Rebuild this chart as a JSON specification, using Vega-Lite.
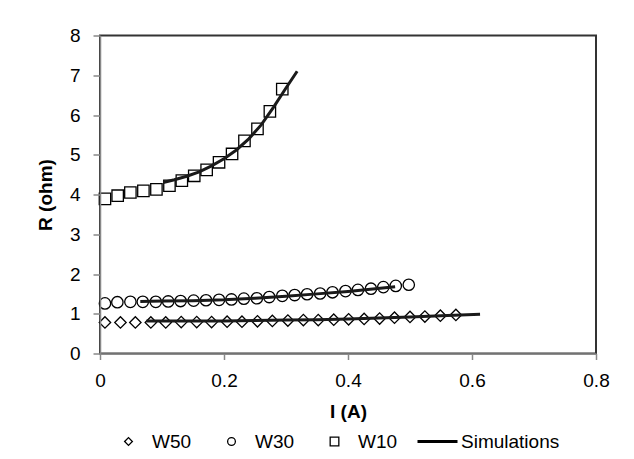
{
  "$schema": "https://vega.github.io/schema/vega-lite/v6.json",
  "width": 496,
  "height": 318,
  "autosize": {"type": "none"},
  "padding": {"left": 100, "top": 35.5, "right": 38, "bottom": 105.5},
  "background": "white",
  "config": {
    "font": "Liberation Sans",
    "view": {"stroke": "#333333", "strokeWidth": 2},
    "legend": {
      "orient": "none", "legendX": 7, "legendY": 394,
      "direction": "horizontal", "columns": 4, "clipHeight": 24,
      "symbolStrokeColor": "black", "symbolFillColor": "transparent",
      "symbolOpacity": 1,
      "labelFontSize": 19, "labelColor": "black", "labelOffset": 2,
      "columnPadding": 18
    }
  },
  "datasets": {
    "pts": [
      {"series": "W10", "I": 0.008, "R": 3.89},
      {"series": "W10", "I": 0.0285, "R": 3.97},
      {"series": "W10", "I": 0.049, "R": 4.05},
      {"series": "W10", "I": 0.070, "R": 4.09},
      {"series": "W10", "I": 0.091, "R": 4.13},
      {"series": "W10", "I": 0.112, "R": 4.22},
      {"series": "W10", "I": 0.132, "R": 4.35},
      {"series": "W10", "I": 0.152, "R": 4.47},
      {"series": "W10", "I": 0.172, "R": 4.62},
      {"series": "W10", "I": 0.192, "R": 4.81},
      {"series": "W10", "I": 0.213, "R": 5.02},
      {"series": "W10", "I": 0.233, "R": 5.35},
      {"series": "W10", "I": 0.254, "R": 5.65},
      {"series": "W10", "I": 0.274, "R": 6.09},
      {"series": "W10", "I": 0.294, "R": 6.65},
      {"series": "W30", "I": 0.008, "R": 1.26},
      {"series": "W30", "I": 0.028, "R": 1.29},
      {"series": "W30", "I": 0.049, "R": 1.30},
      {"series": "W30", "I": 0.069, "R": 1.30},
      {"series": "W30", "I": 0.090, "R": 1.30},
      {"series": "W30", "I": 0.110, "R": 1.31},
      {"series": "W30", "I": 0.130, "R": 1.32},
      {"series": "W30", "I": 0.151, "R": 1.33},
      {"series": "W30", "I": 0.171, "R": 1.34},
      {"series": "W30", "I": 0.192, "R": 1.35},
      {"series": "W30", "I": 0.212, "R": 1.36},
      {"series": "W30", "I": 0.232, "R": 1.38},
      {"series": "W30", "I": 0.253, "R": 1.39},
      {"series": "W30", "I": 0.273, "R": 1.42},
      {"series": "W30", "I": 0.294, "R": 1.45},
      {"series": "W30", "I": 0.314, "R": 1.47},
      {"series": "W30", "I": 0.334, "R": 1.49},
      {"series": "W30", "I": 0.355, "R": 1.51},
      {"series": "W30", "I": 0.375, "R": 1.54},
      {"series": "W30", "I": 0.396, "R": 1.57},
      {"series": "W30", "I": 0.416, "R": 1.60},
      {"series": "W30", "I": 0.437, "R": 1.63},
      {"series": "W30", "I": 0.457, "R": 1.67},
      {"series": "W30", "I": 0.477, "R": 1.70},
      {"series": "W30", "I": 0.498, "R": 1.73},
      {"series": "W50", "I": 0.008, "R": 0.78},
      {"series": "W50", "I": 0.033, "R": 0.78},
      {"series": "W50", "I": 0.057, "R": 0.78},
      {"series": "W50", "I": 0.082, "R": 0.78},
      {"series": "W50", "I": 0.106, "R": 0.78},
      {"series": "W50", "I": 0.131, "R": 0.79},
      {"series": "W50", "I": 0.156, "R": 0.79},
      {"series": "W50", "I": 0.180, "R": 0.79},
      {"series": "W50", "I": 0.205, "R": 0.80},
      {"series": "W50", "I": 0.229, "R": 0.80},
      {"series": "W50", "I": 0.254, "R": 0.81},
      {"series": "W50", "I": 0.278, "R": 0.82},
      {"series": "W50", "I": 0.303, "R": 0.83},
      {"series": "W50", "I": 0.328, "R": 0.84},
      {"series": "W50", "I": 0.352, "R": 0.84},
      {"series": "W50", "I": 0.377, "R": 0.85},
      {"series": "W50", "I": 0.401, "R": 0.86},
      {"series": "W50", "I": 0.426, "R": 0.87},
      {"series": "W50", "I": 0.451, "R": 0.88},
      {"series": "W50", "I": 0.475, "R": 0.90},
      {"series": "W50", "I": 0.500, "R": 0.92},
      {"series": "W50", "I": 0.524, "R": 0.93},
      {"series": "W50", "I": 0.549, "R": 0.95},
      {"series": "W50", "I": 0.574, "R": 0.97}
    ],
    "sim": [
      {"curve": "sim10", "I": 0.102, "R": 4.30},
      {"curve": "sim10", "I": 0.12, "R": 4.37},
      {"curve": "sim10", "I": 0.14, "R": 4.46},
      {"curve": "sim10", "I": 0.16, "R": 4.57},
      {"curve": "sim10", "I": 0.18, "R": 4.72},
      {"curve": "sim10", "I": 0.20, "R": 4.90},
      {"curve": "sim10", "I": 0.22, "R": 5.12},
      {"curve": "sim10", "I": 0.24, "R": 5.40},
      {"curve": "sim10", "I": 0.26, "R": 5.75},
      {"curve": "sim10", "I": 0.28, "R": 6.20},
      {"curve": "sim10", "I": 0.30, "R": 6.68},
      {"curve": "sim10", "I": 0.318, "R": 7.10},
      {"curve": "sim30", "I": 0.065, "R": 1.31},
      {"curve": "sim30", "I": 0.10, "R": 1.32},
      {"curve": "sim30", "I": 0.15, "R": 1.33},
      {"curve": "sim30", "I": 0.20, "R": 1.35},
      {"curve": "sim30", "I": 0.25, "R": 1.39},
      {"curve": "sim30", "I": 0.30, "R": 1.44},
      {"curve": "sim30", "I": 0.35, "R": 1.50},
      {"curve": "sim30", "I": 0.40, "R": 1.56},
      {"curve": "sim30", "I": 0.44, "R": 1.62},
      {"curve": "sim30", "I": 0.476, "R": 1.68},
      {"curve": "sim50", "I": 0.075, "R": 0.82},
      {"curve": "sim50", "I": 0.15, "R": 0.82},
      {"curve": "sim50", "I": 0.20, "R": 0.82},
      {"curve": "sim50", "I": 0.25, "R": 0.83},
      {"curve": "sim50", "I": 0.30, "R": 0.84},
      {"curve": "sim50", "I": 0.35, "R": 0.85},
      {"curve": "sim50", "I": 0.40, "R": 0.87},
      {"curve": "sim50", "I": 0.45, "R": 0.89},
      {"curve": "sim50", "I": 0.50, "R": 0.92},
      {"curve": "sim50", "I": 0.55, "R": 0.95},
      {"curve": "sim50", "I": 0.613, "R": 0.99}
    ]
  },
  "encoding": {
    "x": {
      "field": "I", "type": "quantitative",
      "scale": {"domain": [0, 0.8], "nice": false},
      "axis": {
        "title": "I (A)", "values": [0, 0.2, 0.4, 0.6, 0.8], "format": "~g",
        "grid": false, "labelFlush": false, "labelOverlap": false,
        "domainColor": "#888888", "domainWidth": 1.5,
        "tickColor": "#888888", "tickWidth": 1.5, "tickSize": 6,
        "labelFontSize": 19, "labelColor": "black", "labelPadding": 12,
        "titleFontSize": 19, "titleFontWeight": "bold", "titleColor": "black", "titlePadding": 12,
        "zindex": 1
      }
    },
    "y": {
      "field": "R", "type": "quantitative",
      "scale": {"domain": [0, 8], "nice": false},
      "axis": {
        "title": "R (ohm)", "values": [0, 1, 2, 3, 4, 5, 6, 7, 8],
        "grid": false, "labelFlush": false, "labelOverlap": false,
        "domainColor": "#888888", "domainWidth": 1.5,
        "tickColor": "#888888", "tickWidth": 1.5, "tickSize": 7,
        "labelFontSize": 19, "labelColor": "black", "labelPadding": 13,
        "titleFontSize": 19, "titleFontWeight": "bold", "titleColor": "black", "titlePadding": 14,
        "zindex": 1
      }
    }
  },
  "layer": [
    {
      "data": {"name": "pts"},
      "mark": {"type": "point", "filled": false, "color": "black", "opacity": 0},
      "encoding": {
        "shape": {
          "field": "series", "type": "nominal",
          "scale": {"domain": ["W50", "W30", "W10", "Simulations"], "range": ["diamond", "circle", "square", "stroke"]},
          "legend": {"title": null}
        },
        "size": {
          "field": "series", "type": "nominal",
          "scale": {"type": "ordinal", "domain": ["W50", "W30", "W10", "Simulations"], "range": [60, 60, 75, 1600]},
          "legend": {"title": null}
        },
        "strokeWidth": {
          "field": "series", "type": "nominal",
          "scale": {"type": "ordinal", "domain": ["W50", "W30", "W10", "Simulations"], "range": [1.3, 1.3, 1.3, 3]},
          "legend": {"title": null}
        }
      }
    },
    {
      "data": {"name": "pts"},
      "mark": {"type": "point", "filled": false, "color": "black", "strokeWidth": 1.3, "size": 130, "opacity": 1},
      "encoding": {
        "shape": {"field": "series", "type": "nominal"}
      }
    },
    {
      "data": {"name": "sim"},
      "mark": {"type": "line", "color": "#1a1a1a", "strokeWidth": 3},
      "encoding": {
        "detail": {"field": "curve", "type": "nominal"}
      }
    }
  ]
}
